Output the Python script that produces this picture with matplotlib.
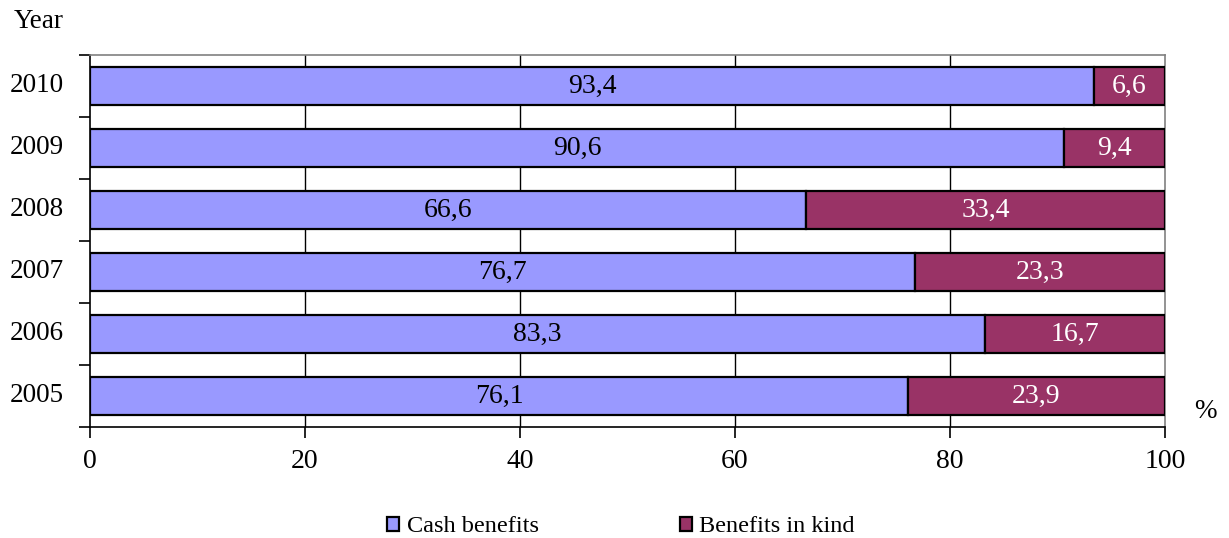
import matplotlib
matplotlib.use("Agg")
import matplotlib.pyplot as plt
import numpy as np

years = ["2005", "2006", "2007", "2008", "2009", "2010"]
cash = [76.1, 83.3, 76.7, 66.6, 90.6, 93.4]
kind = [23.9, 16.7, 23.3, 33.4, 9.4, 6.6]
x_ticks = [0, 20, 40, 60, 80, 100]

plt.rcParams["font.family"] = ["Liberation Serif", "DejaVu Serif"]

fig = plt.figure(figsize=(12.29, 5.38), dpi=100)
ax = fig.add_axes([90 / 1229, 1 - 427 / 538, (1165 - 90) / 1229, (427 - 55) / 538])

pos = np.arange(len(years))
h = 0.62
c_cash = "#9999FF"
c_kind = "#993366"
b1 = ax.barh(pos, cash, height=h, color=c_cash, edgecolor="black", linewidth=1.6,
             label="Cash benefits", zorder=3)
b2 = ax.barh(pos, kind, left=cash, height=h, color=c_kind, edgecolor="black", linewidth=1.6,
             label="Benefits in kind", zorder=3)

for i in range(len(years)):
    ax.text(cash[i] / 2, pos[i], f"{cash[i]:.1f}".replace(".", ","), ha="center", va="center",
            fontsize=20, color="black", zorder=4)
    ax.text(cash[i] + kind[i] / 2, pos[i], f"{kind[i]:.1f}".replace(".", ","), ha="center",
            va="center", fontsize=20, color="white", zorder=4)

ax.set_xlim(0, 100)
ax.set_ylim(-0.5, len(years) - 0.5)

ax.set_xticks(x_ticks)
ax.set_xticklabels([str(v) for v in x_ticks], fontsize=20)
ax.tick_params(axis="x", direction="out", length=8, width=1.2, pad=8)

# year boundaries as major ticks, year names at the centres
ax.set_yticks(np.arange(-0.5, len(years), 1.0))
ax.set_yticklabels([])
ax.set_yticks(pos, minor=True)
ax.set_yticklabels(years, minor=True, fontsize=19.5, va="center")
ax.tick_params(axis="y", which="major", direction="out", length=8, width=1.2)
ax.tick_params(axis="y", which="minor", length=0, pad=19)

for v in x_ticks[1:-1]:
    ax.axvline(v, color="black", linewidth=1.0, zorder=1)

ax.spines["left"].set_color("black")
ax.spines["bottom"].set_color("black")
ax.spines["left"].set_linewidth(1.2)
ax.spines["bottom"].set_linewidth(1.2)
ax.spines["top"].set_color("#808080")
ax.spines["right"].set_color("#808080")
ax.spines["top"].set_linewidth(1.2)
ax.spines["right"].set_linewidth(1.2)

fig.text(14 / 1229, 1 - 22 / 538, "Year", fontsize=19.5, ha="left", va="center")
fig.text(1205 / 1229, 1 - 412 / 538, "%", fontsize=19.5, ha="center", va="center")

fig.legend(handles=[b1, b2], loc="center", bbox_to_anchor=(621 / 1229, 1 - 527 / 538),
           ncol=2, frameon=False, fontsize=17.5, handlelength=0.5, handleheight=0.5,
           handletextpad=0.3, columnspacing=5.8, borderpad=0)

fig.savefig("out.png", dpi=100)
